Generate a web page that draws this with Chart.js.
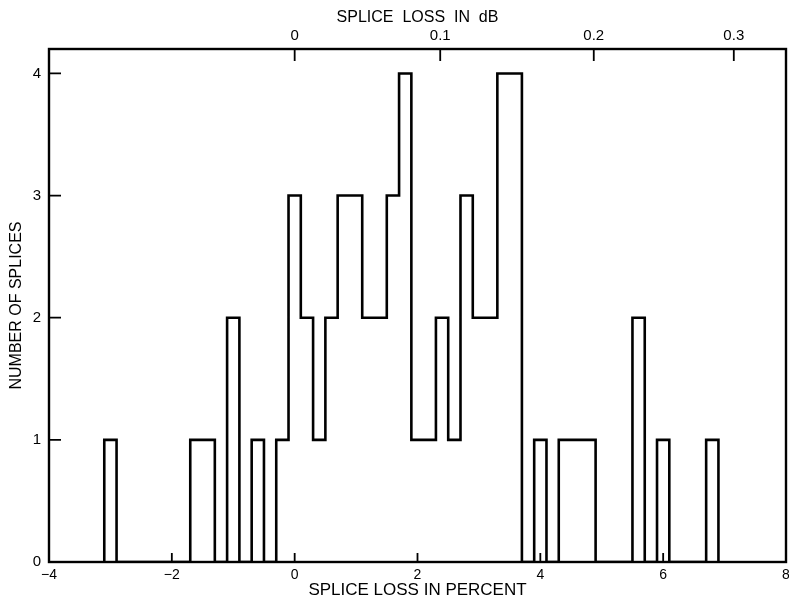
<!DOCTYPE html>
<html>
<head>
<meta charset="utf-8">
<script src="https://cdn.jsdelivr.net/npm/chart.js@4/dist/chart.umd.min.js"></script>
<style>
  html, body { margin: 0; padding: 0; background: #ffffff; }
  #wrap { width: 789px; height: 597px; }
</style>
</head>
<body>
<div id="wrap"><canvas id="c" width="789" height="597"></canvas></div>
<script>
// ---- data ----
const binCenters = [-3.0,-2.8,-2.6,-2.4,-2.2,-2.0,-1.8,-1.6,-1.4,-1.2,-1.0,-0.8,-0.6,-0.4,-0.2,
  0.0,0.2,0.4,0.6,0.8,1.0,1.2,1.4,1.6,1.8,2.0,2.2,2.4,2.6,2.8,3.0,3.2,3.4,3.6,3.8,
  4.0,4.2,4.4,4.6,4.8,5.0,5.2,5.4,5.6,5.8,6.0,6.2,6.4,6.6,6.8];
const spliceCounts = [1,0,0,0,0,0,0,1,1,0,2,0,1,0,1,
  3,2,1,2,3,3,2,2,3,4,1,1,2,1,3,2,2,4,4,0,
  1,0,1,1,1,0,0,0,2,0,1,0,0,0,1];
const binWidth = 0.2;
const percentTicks = [-4,-2,0,2,4,6,8];
const countTicks = [0,1,2,3,4];
const dbTickLabels = ['0','0.1','0.2','0.3'];
const dbTickAtPercent = [0, 2.37, 4.87, 7.15];

// step outline points: left edge of each bin with its count, closed at last right edge
const stepPoints = [{x: binCenters[0] - binWidth/2, y: 0}];
binCenters.forEach((c, i) => stepPoints.push({x: c - binWidth/2, y: spliceCounts[i]}));
stepPoints.push({x: binCenters[binCenters.length-1] + binWidth/2, y: 0});

const FONT = '"Liberation Sans", Arial, Helvetica, sans-serif';

const framePlugin = {
  id: 'frameTicks',
  afterDatasetsDraw(chart) {
    const {ctx, chartArea: a, scales} = chart;
    ctx.save();
    ctx.strokeStyle = '#000';
    ctx.lineWidth = 2.4;
    ctx.strokeRect(a.left, a.top, a.right - a.left, a.bottom - a.top);
    ctx.lineWidth = 1.8;
    ctx.beginPath();
    scales.y.ticks.forEach(t => {
      const py = scales.y.getPixelForValue(t.value);
      ctx.moveTo(a.left, py); ctx.lineTo(a.left + 12, py);
    });
    scales.x.ticks.forEach(t => {
      const px = scales.x.getPixelForValue(t.value);
      ctx.moveTo(px, a.bottom); ctx.lineTo(px, a.bottom - 9);
    });
    scales.x2.ticks.forEach(t => {
      const px = scales.x2.getPixelForValue(t.value);
      ctx.moveTo(px, a.top); ctx.lineTo(px, a.top + 12);
    });
    ctx.stroke();
    ctx.restore();
  }
};

new Chart(document.getElementById('c'), {
  type: 'line',
  data: {
    datasets: [{
      data: stepPoints,
      stepped: 'before',
      borderColor: '#000',
      borderWidth: 2.6,
      pointRadius: 0,
      fill: false,
      xAxisID: 'x',
      yAxisID: 'y'
    }]
  },
  options: {
    responsive: false,
    animation: false,
    devicePixelRatio: 1,
    layout: { padding: { left: 0, right: 3, top: 0, bottom: 0 } },
    plugins: { legend: { display: false }, tooltip: { enabled: false } },
    scales: {
      x: {
        type: 'linear', position: 'bottom', min: -4, max: 8,
        afterBuildTicks: s => { s.ticks = percentTicks.map(v => ({value: v})); },
        afterFit: s => { s.height = 35; s.paddingLeft = 0; s.paddingRight = 0; },
        grid: { display: false, drawTicks: false },
        border: { display: false },
        ticks: {
          color: '#000', padding: 5, maxRotation: 0, autoSkip: false,
          font: { family: FONT, size: 14 },
          callback: v => (v < 0 ? '\u2212' + Math.abs(v) : String(v))
        },
        title: {
          display: true, text: 'SPLICE LOSS IN PERCENT', color: '#000',
          font: { family: FONT, size: 17, lineHeight: 1 },
          padding: { top: 0, bottom: -1.5 }
        }
      },
      x2: {
        type: 'linear', position: 'top', min: -4, max: 8,
        afterBuildTicks: s => { s.ticks = dbTickAtPercent.map(v => ({value: v})); },
        afterFit: s => { s.height = 49; s.paddingLeft = 0; s.paddingRight = 0; },
        grid: { display: false, drawTicks: false },
        border: { display: false },
        ticks: {
          color: '#000', padding: 4, maxRotation: 0, autoSkip: false,
          font: { family: FONT, size: 15 },
          callback: (v, i) => dbTickLabels[i]
        },
        title: {
          display: true, text: 'SPLICE  LOSS  IN  dB', color: '#000',
          font: { family: FONT, size: 16, lineHeight: 1 },
          padding: { top: 10, bottom: 0 }
        }
      },
      y: {
        type: 'linear', position: 'left', min: 0, max: 4.2,
        afterBuildTicks: s => { s.ticks = countTicks.map(v => ({value: v})); },
        afterFit: s => { s.width = 49; },
        grid: { display: false, drawTicks: false },
        border: { display: false },
        ticks: {
          color: '#000', padding: 8,
          font: { family: FONT, size: 15 }
        },
        title: {
          display: true, text: 'NUMBER OF SPLICES', color: '#000',
          font: { family: FONT, size: 16, lineHeight: 1 },
          padding: { top: 9, bottom: 0 }
        }
      }
    }
  },
  plugins: [framePlugin]
});
</script>
</body>
</html>
